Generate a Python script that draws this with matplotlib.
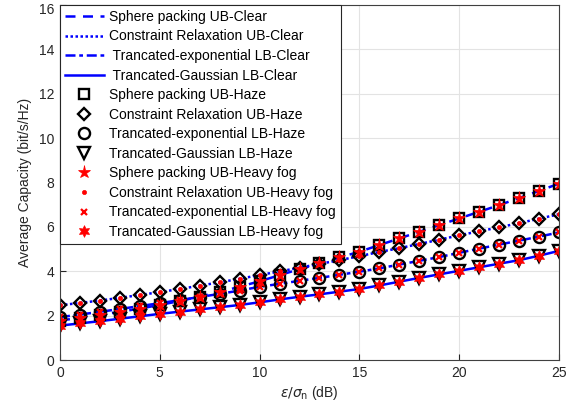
import matplotlib
matplotlib.use("Agg")
import matplotlib.pyplot as plt
import matplotlib.transforms as mtransforms
import numpy as np

plt.rcParams['font.family'] = ['Liberation Sans', 'DejaVu Sans']
plt.rcParams['mathtext.fontset'] = 'dejavusans'

snr_db = list(range(0, 26))
sphere_ub = [1.78, 1.90, 2.03, 2.17, 2.32, 2.48, 2.66, 2.86, 3.07, 3.30, 3.55, 3.82, 4.10,
             4.35, 4.62, 4.88, 5.18, 5.48, 5.78, 6.08, 6.38, 6.68, 6.98, 7.30, 7.62, 7.95]
relax_ub = [2.47, 2.57, 2.68, 2.80, 2.93, 3.06, 3.20, 3.35, 3.50, 3.66, 3.83, 3.99, 4.16,
            4.33, 4.50, 4.68, 4.87, 5.04, 5.23, 5.42, 5.62, 5.80, 5.98, 6.17, 6.37, 6.57]
texp_lb = [1.93, 2.05, 2.17, 2.30, 2.43, 2.56, 2.70, 2.84, 2.98, 3.13, 3.30, 3.43, 3.57,
           3.70, 3.84, 3.98, 4.13, 4.30, 4.47, 4.64, 4.83, 5.02, 5.20, 5.38, 5.56, 5.75]
tgauss_lb = [1.55, 1.65, 1.75, 1.86, 1.97, 2.08, 2.18, 2.28, 2.38, 2.48, 2.60, 2.73, 2.85,
             2.96, 3.08, 3.20, 3.36, 3.53, 3.70, 3.86, 4.02, 4.18, 4.34, 4.50, 4.70, 4.92]

series = [sphere_ub, relax_ub, texp_lb, tgauss_lb]
clear_labels = ['Sphere packing UB-Clear', 'Constraint Relaxation UB-Clear',
                ' Trancated-exponential LB-Clear', ' Trancated-Gaussian LB-Clear']
haze_labels = ['Sphere packing UB-Haze', 'Constraint Relaxation UB-Haze',
               'Trancated-exponential LB-Haze', 'Trancated-Gaussian LB-Haze']
fog_labels = ['Sphere packing UB-Heavy fog', 'Constraint Relaxation UB-Heavy fog',
              'Trancated-exponential LB-Heavy fog', 'Trancated-Gaussian LB-Heavy fog']
xticks = [0, 5, 10, 15, 20, 25]
yticks = [0, 2, 4, 6, 8, 10, 12, 14, 16]

fig = plt.figure(figsize=(5.76, 4.16), dpi=100)
ax = fig.add_axes([60 / 576, 56 / 416, 499 / 576, 355 / 416])

line_styles = [(0, (4, 3)), (0, (1, 1)), (0, (4, 1.5, 1.5, 1.5)), '-']
for ys, ls, lab in zip(series, line_styles, clear_labels):
    ax.plot(snr_db, ys, color='#0000ff', linestyle=ls, linewidth=1.8, label=lab)

haze_markers = ['s', 'D', 'o', 'v']
haze_sizes = [6.5, 6.0, 8.0, 8.5]
for ys, m, ms, lab in zip(series, haze_markers, haze_sizes, haze_labels):
    ax.plot(snr_db, ys, linestyle='none', marker=m, markersize=ms,
            markerfacecolor='none', markeredgecolor='black', markeredgewidth=1.7, label=lab)

fog_markers = ['*', '.', 'x', (6, 1, 0)]
fog_sizes = [9.5, 6, 5, 8.5]
for ys, m, ms, lab in zip(series, fog_markers, fog_sizes, fog_labels):
    ax.plot(snr_db, ys, linestyle='none', marker=m, markersize=ms,
            color='#ff0000', markeredgecolor='#ff0000',
            markeredgewidth=1.6 if m == 'x' else 0.5, label=lab)

ax.set_xlim(0, 25)
ax.set_ylim(0, 16)
ax.set_xticks(xticks)
ax.set_yticks(yticks)
ax.grid(True, color='#e3e3e3', linewidth=0.8)
ax.set_axisbelow(True)
ax.tick_params(direction='in', labelsize=10, colors='#262626', length=4, pad=4)
for s in ax.spines.values():
    s.set_color('#404040')
    s.set_linewidth(0.8)
ax.set_xlabel(r'$\epsilon/\sigma_{\rm n}$ (dB)', fontsize=10, color='#262626', labelpad=3)
ax.set_ylabel('Average Capacity (bit/s/Hz)', fontsize=10, color='#262626', labelpad=5)

# shift the top tick label down slightly so it fits in the figure
fig.canvas.draw()
lbls = ax.get_yticklabels()
off = mtransforms.ScaledTranslation(0, -4 / 100, fig.dpi_scale_trans)
lbls[-1].set_transform(lbls[-1].get_transform() + off)

leg = ax.legend(loc='upper left', borderaxespad=0, fontsize=10, handlelength=2.8,
                labelspacing=0.4, handletextpad=0.4, borderpad=0.35,
                fancybox=False, framealpha=1, edgecolor='#262626')
leg.get_frame().set_linewidth(0.8)

fig.savefig('out.png', dpi=100)
